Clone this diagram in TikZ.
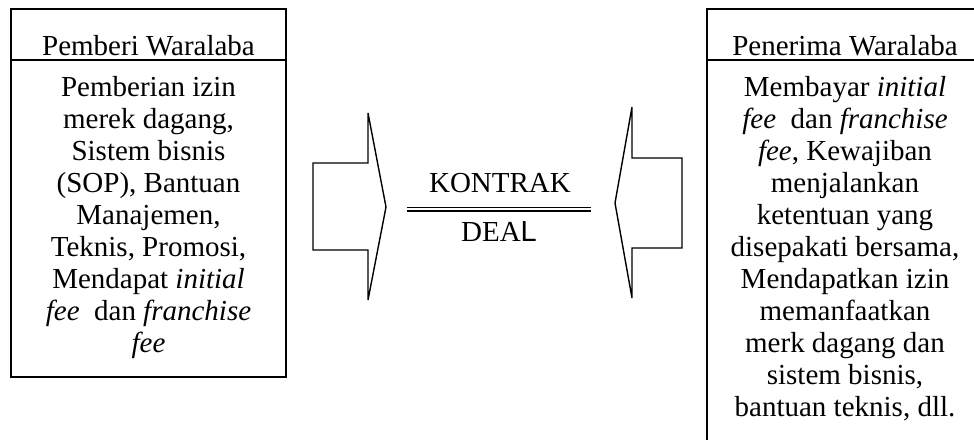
\documentclass[tikz,border=0pt]{standalone}
\usepackage{fontspec}
\setmainfont{Liberation Serif}
\setsansfont{Liberation Sans}
\begin{document}
\begin{tikzpicture}[x=1pt,y=-1pt,
  frame/.style={draw=black,line width=1.7pt},
  blockarrow/.style={draw=black,line width=1.4pt,line join=miter},
  txt/.style={font=\fontsize{29}{32}\selectfont,inner sep=0pt,align=center},
]
\useasboundingbox (0,0) rectangle (974,439);
\clip (0,0) rectangle (974,439);

% franchisor box
\draw[frame] (11,9) rectangle (286,377);
\draw[frame] (11,60) -- (286,60);
\node[txt,anchor=base] (giverhead) at (148.5,55) {Pemberi Waralaba};
\node[txt,anchor=north] (giverbody) at (148.5,76) {Pemberian izin\\
merek dagang,\\
Sistem bisnis\\
(SOP), Bantuan\\
Manajemen,\\
Teknis, Promosi,\\
Mendapat \textit{initial}\\
\textit{fee}\ \ dan \textit{franchise}\\
\textit{fee}};

% franchisee box (runs past the page edge)
\draw[frame] (707,9) rectangle (990,480);
\draw[frame] (707,60) -- (990,60);
\node[txt,anchor=base] (takerhead) at (845,55) {Penerima Waralaba};
\node[txt,anchor=north] (takerbody) at (845,76) {Membayar \textit{initial}\\
\textit{fee}\ \ dan \textit{franchise}\\
\textit{fee}, Kewajiban\\
menjalankan\\
ketentuan yang\\
disepakati bersama,\\
Mendapatkan izin\\
memanfaatkan\\
merk dagang dan\\
sistem bisnis,\\
bantuan teknis, dll.};

% block arrows pointing to the contract
\draw[blockarrow] (313,163) -- (368,163) -- (368,113) -- (386,207)
  -- (368,300) -- (368,250) -- (313,250) -- cycle;
\draw[blockarrow] (682,158) -- (632,158) -- (632,107) -- (615,203)
  -- (632,298) -- (632,248) -- (682,248) -- cycle;

% contract label with double rule
\node[txt,anchor=base] (kontrak) at (500,192) {KONTRAK};
\node[txt,anchor=base] (deal) at (499,241) {DEA\textsf{L}};
\coordinate (ruleL) at (407,209);
\coordinate (ruleR) at (591,209);
\draw[double=white,double distance=2.4pt,line width=1.3pt] (ruleL) -- (ruleR);
\end{tikzpicture}
\end{document}
